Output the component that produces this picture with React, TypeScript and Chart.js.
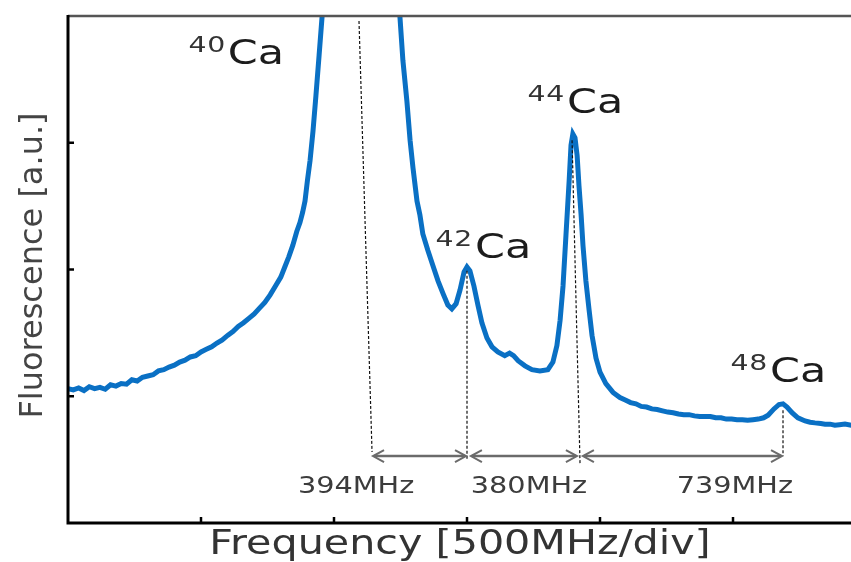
import { useEffect, useRef } from 'react';
import { Chart, registerables } from 'chart.js';

Chart.register(...registerables);

// Spectrum: frequency offset (MHz, 500 MHz per division) and fluorescence (divisions, a.u.)
const freqMHz = [
  0, 20, 40, 60, 80, 100, 120, 140, 160, 180, 200, 220, 240, 260, 280, 300, 320, 340, 360, 380,
  400, 420, 440, 460, 480, 500, 520, 540, 560, 580, 600, 620, 640, 660, 680, 700, 720, 740, 760, 780,
  800, 815, 830, 845, 860, 872, 882, 891, 900, 910, 921, 932, 944, 955, 966, 985, 1010, 1050, 1090, 1130,
  1170, 1210, 1237, 1248, 1259, 1274, 1286, 1297, 1312, 1323, 1334, 1353, 1372, 1391, 1410, 1428, 1443, 1459, 1474, 1489,
  1500, 1511, 1526, 1541, 1556, 1575, 1594, 1616, 1642, 1660, 1675, 1692, 1718, 1744, 1774, 1804, 1823, 1838, 1850, 1861,
  1872, 1884, 1891, 1898, 1906, 1914, 1921, 1929, 1936, 1947, 1959, 1970, 1985, 2000, 2022, 2049, 2075, 2095, 2115, 2135,
  2155, 2175, 2195, 2215, 2235, 2255, 2275, 2295, 2315, 2335, 2355, 2375, 2395, 2415, 2435, 2455, 2475, 2495, 2515, 2535,
  2555, 2575, 2595, 2615, 2632, 2654, 2673, 2688, 2703, 2722, 2744, 2771, 2790, 2808, 2830, 2846, 2865, 2883, 2900, 2921,
  2944, 2970, 3000,
];
const fluorescence = [
  1.06, 1.05, 1.065, 1.045, 1.075, 1.06, 1.07, 1.055, 1.09, 1.08, 1.10, 1.095, 1.13, 1.12, 1.15, 1.16, 1.17, 1.2, 1.21, 1.23,
  1.245, 1.27, 1.285, 1.31, 1.32, 1.35, 1.37, 1.39, 1.42, 1.445, 1.48, 1.51, 1.55, 1.58, 1.615, 1.65, 1.695, 1.74, 1.80, 1.87,
  1.94, 2.02, 2.10, 2.19, 2.30, 2.37, 2.45, 2.54, 2.70, 2.86, 3.09, 3.37, 3.69, 3.99, 4.28, 5.0, 6.3, 7.3, 7.6, 7.2,
  6.2, 4.9, 4.16, 3.99, 3.65, 3.33, 3.02, 2.80, 2.54, 2.43, 2.28, 2.15, 2.03, 1.91, 1.81, 1.72, 1.69, 1.73, 1.84, 1.98,
  2.02, 1.99, 1.87, 1.72, 1.58, 1.46, 1.39, 1.35, 1.32, 1.34, 1.32, 1.28, 1.24, 1.21, 1.20, 1.21, 1.27, 1.40, 1.60, 1.87,
  2.27, 2.70, 2.98, 3.07, 3.04, 2.90, 2.66, 2.43, 2.19, 1.91, 1.68, 1.48, 1.30, 1.19, 1.10, 1.03, 0.99, 0.97, 0.95, 0.94,
  0.92, 0.915, 0.90, 0.895, 0.885, 0.875, 0.87, 0.86, 0.855, 0.855, 0.845, 0.84, 0.84, 0.84, 0.83, 0.83, 0.82, 0.82, 0.815, 0.815,
  0.81, 0.815, 0.82, 0.83, 0.85, 0.90, 0.935, 0.94, 0.915, 0.87, 0.83, 0.805, 0.795, 0.79, 0.785, 0.78, 0.78, 0.772, 0.776, 0.78,
  0.772, 0.775, 0.77,
];

// Isotope labels
const isotopeMass = ['40', '42', '44', '48'];
const isotopeSymbol = 'Ca';
const isotopeLabelFreq = [601, 1530, 1876, 2639];
const isotopeLabelLevel = [3.622, 2.087, 3.236, 1.11];

// Dashed guide lines from each peak down to the spacing arrows
const guideTopFreq = [1094, 1500, 1895, 2688];
const guideTopLevel = [3.96, 1.99, 3.02, 0.89];
const guideBottomFreq = [1143, 1500, 1925, 2688];
const guideBottomLevel = [0.56, 0.5, 0.46, 0.53];

// Isotope-shift spacing arrows
const spanStartFreq = [1143, 1511, 1932];
const spanEndFreq = [1500, 1917, 2688];
const spanLevel = 0.528;
const spanLabels = ['394MHz', '380MHz', '739MHz'];
const spanLabelFreq = [1083, 1733, 2507];
const spanLabelLevel = 0.236;

// Axis ticks (divisions)
const xTickValues = [500, 1000, 1500, 2000, 2500];
const yTickValues = [1, 2, 3];
const xTitle = 'Frequency [500MHz/div]';
const yTitle = 'Fluorescence [a.u.]';

const FONT = '"DejaVu Sans", Verdana, sans-serif';

function stretchText(
  ctx: CanvasRenderingContext2D,
  text: string,
  x: number,
  y: number,
  size: number,
  color: string,
  sx: number,
  align: 'left' | 'center' | 'right',
  spacing = 0,
) {
  ctx.save();
  ctx.font = `${size}px ${FONT}`;
  (ctx as any).letterSpacing = `${spacing}px`;
  ctx.fillStyle = color;
  ctx.textBaseline = 'alphabetic';
  ctx.textAlign = 'left';
  const w = ctx.measureText(text).width * sx;
  const left = align === 'left' ? x : align === 'center' ? x - w / 2 : x - w;
  ctx.translate(left, y);
  ctx.scale(sx, 1);
  ctx.fillText(text, 0, 0);
  ctx.restore();
}

const decorPlugin = {
  id: 'decor',
  afterDatasetsDraw(chart: any) {
    const { ctx, chartArea } = chart;
    const xs = chart.scales.x;
    const ys = chart.scales.y;
    const { left, right, top, bottom } = chartArea;

    ctx.save();
    // frame
    ctx.strokeStyle = '#555';
    ctx.lineWidth = 2.5;
    ctx.beginPath();
    ctx.moveTo(left, top);
    ctx.lineTo(right + 10, top);
    ctx.stroke();
    ctx.strokeStyle = '#000';
    ctx.lineWidth = 3;
    ctx.beginPath();
    ctx.moveTo(left, top - 1);
    ctx.lineTo(left, bottom);
    ctx.lineTo(right + 10, bottom);
    ctx.stroke();

    // inward ticks
    ctx.lineWidth = 2.5;
    xTickValues.forEach((v) => {
      const px = xs.getPixelForValue(v);
      ctx.beginPath();
      ctx.moveTo(px, bottom);
      ctx.lineTo(px, bottom - 6);
      ctx.stroke();
    });
    yTickValues.forEach((v) => {
      const py = ys.getPixelForValue(v);
      ctx.beginPath();
      ctx.moveTo(left, py);
      ctx.lineTo(left + 6, py);
      ctx.stroke();
    });

    // spacing arrows
    ctx.strokeStyle = '#6b6b6b';
    ctx.lineWidth = 2.5;
    const ay = ys.getPixelForValue(spanLevel);
    spanStartFreq.forEach((f, i) => {
      const x1 = xs.getPixelForValue(f);
      const x2 = xs.getPixelForValue(spanEndFreq[i]);
      ctx.beginPath();
      ctx.moveTo(x1 + 2, ay);
      ctx.lineTo(x2 - 2, ay);
      ctx.stroke();
      ctx.lineWidth = 2;
      ctx.beginPath();
      ctx.moveTo(x1 + 12, ay - 6);
      ctx.lineTo(x1 + 1, ay);
      ctx.lineTo(x1 + 12, ay + 6);
      ctx.moveTo(x2 - 12, ay - 6);
      ctx.lineTo(x2 - 1, ay);
      ctx.lineTo(x2 - 12, ay + 6);
      ctx.stroke();
      ctx.lineWidth = 2.5;
      stretchText(
        ctx,
        spanLabels[i],
        xs.getPixelForValue(spanLabelFreq[i]),
        ys.getPixelForValue(spanLabelLevel),
        23,
        '#3c3c3c',
        1.25,
        'center',
      );
    });

    // isotope labels
    isotopeMass.forEach((m, i) => {
      const lx = xs.getPixelForValue(isotopeLabelFreq[i]);
      const ly = ys.getPixelForValue(isotopeLabelLevel[i]);
      stretchText(ctx, isotopeSymbol, lx, ly, 33, '#1c1c1c', 1.3, 'left');
      stretchText(ctx, m, lx - 2, ly - 12, 21, '#333', 1.35, 'right', 0.5);
    });

    // axis titles
    stretchText(ctx, xTitle, left + 392, bottom + 31, 33, '#333', 1.25, 'center');
    ctx.save();
    ctx.translate(42, (top + bottom) / 2 - 4);
    ctx.rotate(-Math.PI / 2);
    stretchText(ctx, yTitle, 0, 0, 32, '#444', 1, 'center');
    ctx.restore();

    ctx.restore();
  },
};

export default function App() {
  const ref = useRef<HTMLCanvasElement | null>(null);

  useEffect(() => {
    if (!ref.current) return;
    const guides = guideTopFreq.map((f, i) => ({
      label: `guide-${isotopeMass[i]}`,
      data: [
        { x: f, y: guideTopLevel[i] },
        { x: guideBottomFreq[i], y: guideBottomLevel[i] },
      ],
      borderColor: '#111',
      borderWidth: 1.2,
      borderDash: [3, 2],
      pointRadius: 0,
      order: 0,
      clip: false as any,
    }));
    const chart = new Chart(ref.current, {
      type: 'line',
      data: {
        datasets: [
          ...guides,
          {
            label: 'Fluorescence',
            data: freqMHz.map((f, i) => ({ x: f, y: fluorescence[i] })),
            borderColor: '#0a70c4',
            borderWidth: 5,
            pointRadius: 0,
            tension: 0,
            order: 1,
            clip: 0 as any,
          },
        ],
      },
      options: {
        responsive: false,
        animation: false,
        events: [],
        layout: { padding: { left: 68, top: 16, right: 2, bottom: 39 } },
        plugins: { legend: { display: false }, tooltip: { enabled: false } },
        scales: {
          x: { type: 'linear', min: 0, max: 3000, display: false },
          y: { type: 'linear', min: 0, max: 4, display: false },
        },
      },
      plugins: [decorPlugin],
    });
    return () => chart.destroy();
  }, []);

  return (
    <div
      style={{
        position: 'fixed',
        left: 0,
        top: 0,
        width: 851,
        height: 562,
        overflow: 'hidden',
        background: '#fff',
      }}
    >
      <canvas ref={ref} width={868} height={562} style={{ display: 'block', width: 868, height: 562 }} />
    </div>
  );
}
